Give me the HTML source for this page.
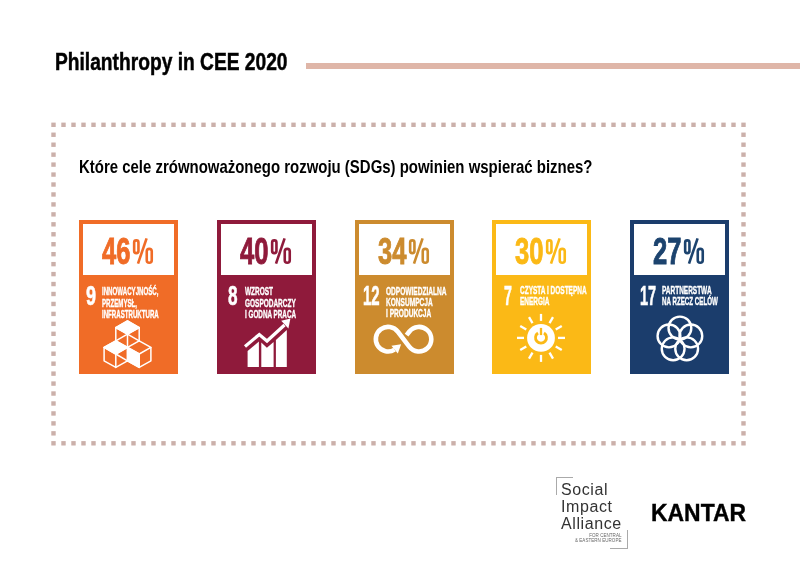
<!DOCTYPE html>
<html>
<head>
<meta charset="utf-8">
<style>
html,body{margin:0;padding:0;background:#fff;}
body{-webkit-font-smoothing:antialiased;width:800px;height:582px;position:relative;overflow:hidden;font-family:"Liberation Sans",sans-serif;}
.a{position:absolute;white-space:nowrap;line-height:1;}
.sx{transform-origin:0 0;}
#title{left:55px;top:50.2px;font-size:24.3px;font-weight:bold;color:#000;transform:scaleX(0.79);-webkit-text-stroke:0.5px #000;}
#rule{position:absolute;left:306px;top:63.2px;width:494px;height:5.6px;background:#dfb6a8;}
#q{left:79px;top:158.6px;font-size:17.8px;font-weight:bold;color:#000;transform:scaleX(0.841);}
.card{position:absolute;top:220.3px;width:98.6px;height:154.1px;}
.box{position:absolute;left:4px;top:3.9px;width:90.6px;height:51.3px;background:#fff;}
.pct{position:absolute;font-weight:bold;font-size:36px;-webkit-text-stroke-width:0.9px;line-height:1;transform-origin:0 0;white-space:nowrap;}
.num{position:absolute;font-weight:bold;color:#fff;line-height:1;transform-origin:0 0;white-space:nowrap;font-size:27.4px;-webkit-text-stroke:0.6px #fff;}
.lbl{position:absolute;font-weight:bold;color:#fff;font-size:10px;line-height:11.3px;-webkit-text-stroke:0.35px #fff;transform-origin:0 0;white-space:nowrap;}
.ic{position:absolute;left:0;top:0;}
</style>
</head>
<body>
<div id="wrap" style="position:absolute;left:0;top:0;width:800px;height:582px;will-change:transform">
<div id="title" class="a sx">Philanthropy in CEE 2020</div>
<div id="rule"></div>

<svg class="a" style="left:0;top:0" width="800" height="582" id="dots"><g fill="#cbb0aa"><rect x="51.30" y="122.60" width="4.4" height="4.4"/><rect x="51.30" y="441.10" width="4.4" height="4.4"/><rect x="61.30" y="122.60" width="4.4" height="4.4"/><rect x="61.30" y="441.10" width="4.4" height="4.4"/><rect x="71.30" y="122.60" width="4.4" height="4.4"/><rect x="71.30" y="441.10" width="4.4" height="4.4"/><rect x="81.30" y="122.60" width="4.4" height="4.4"/><rect x="81.30" y="441.10" width="4.4" height="4.4"/><rect x="91.30" y="122.60" width="4.4" height="4.4"/><rect x="91.30" y="441.10" width="4.4" height="4.4"/><rect x="101.30" y="122.60" width="4.4" height="4.4"/><rect x="101.30" y="441.10" width="4.4" height="4.4"/><rect x="111.30" y="122.60" width="4.4" height="4.4"/><rect x="111.30" y="441.10" width="4.4" height="4.4"/><rect x="121.30" y="122.60" width="4.4" height="4.4"/><rect x="121.30" y="441.10" width="4.4" height="4.4"/><rect x="131.30" y="122.60" width="4.4" height="4.4"/><rect x="131.30" y="441.10" width="4.4" height="4.4"/><rect x="141.30" y="122.60" width="4.4" height="4.4"/><rect x="141.30" y="441.10" width="4.4" height="4.4"/><rect x="151.30" y="122.60" width="4.4" height="4.4"/><rect x="151.30" y="441.10" width="4.4" height="4.4"/><rect x="161.30" y="122.60" width="4.4" height="4.4"/><rect x="161.30" y="441.10" width="4.4" height="4.4"/><rect x="171.30" y="122.60" width="4.4" height="4.4"/><rect x="171.30" y="441.10" width="4.4" height="4.4"/><rect x="181.30" y="122.60" width="4.4" height="4.4"/><rect x="181.30" y="441.10" width="4.4" height="4.4"/><rect x="191.30" y="122.60" width="4.4" height="4.4"/><rect x="191.30" y="441.10" width="4.4" height="4.4"/><rect x="201.30" y="122.60" width="4.4" height="4.4"/><rect x="201.30" y="441.10" width="4.4" height="4.4"/><rect x="211.30" y="122.60" width="4.4" height="4.4"/><rect x="211.30" y="441.10" width="4.4" height="4.4"/><rect x="221.30" y="122.60" width="4.4" height="4.4"/><rect x="221.30" y="441.10" width="4.4" height="4.4"/><rect x="231.30" y="122.60" width="4.4" height="4.4"/><rect x="231.30" y="441.10" width="4.4" height="4.4"/><rect x="241.30" y="122.60" width="4.4" height="4.4"/><rect x="241.30" y="441.10" width="4.4" height="4.4"/><rect x="251.30" y="122.60" width="4.4" height="4.4"/><rect x="251.30" y="441.10" width="4.4" height="4.4"/><rect x="261.30" y="122.60" width="4.4" height="4.4"/><rect x="261.30" y="441.10" width="4.4" height="4.4"/><rect x="271.30" y="122.60" width="4.4" height="4.4"/><rect x="271.30" y="441.10" width="4.4" height="4.4"/><rect x="281.30" y="122.60" width="4.4" height="4.4"/><rect x="281.30" y="441.10" width="4.4" height="4.4"/><rect x="291.30" y="122.60" width="4.4" height="4.4"/><rect x="291.30" y="441.10" width="4.4" height="4.4"/><rect x="301.30" y="122.60" width="4.4" height="4.4"/><rect x="301.30" y="441.10" width="4.4" height="4.4"/><rect x="311.30" y="122.60" width="4.4" height="4.4"/><rect x="311.30" y="441.10" width="4.4" height="4.4"/><rect x="321.30" y="122.60" width="4.4" height="4.4"/><rect x="321.30" y="441.10" width="4.4" height="4.4"/><rect x="331.30" y="122.60" width="4.4" height="4.4"/><rect x="331.30" y="441.10" width="4.4" height="4.4"/><rect x="341.30" y="122.60" width="4.4" height="4.4"/><rect x="341.30" y="441.10" width="4.4" height="4.4"/><rect x="351.30" y="122.60" width="4.4" height="4.4"/><rect x="351.30" y="441.10" width="4.4" height="4.4"/><rect x="361.30" y="122.60" width="4.4" height="4.4"/><rect x="361.30" y="441.10" width="4.4" height="4.4"/><rect x="371.30" y="122.60" width="4.4" height="4.4"/><rect x="371.30" y="441.10" width="4.4" height="4.4"/><rect x="381.30" y="122.60" width="4.4" height="4.4"/><rect x="381.30" y="441.10" width="4.4" height="4.4"/><rect x="391.30" y="122.60" width="4.4" height="4.4"/><rect x="391.30" y="441.10" width="4.4" height="4.4"/><rect x="401.30" y="122.60" width="4.4" height="4.4"/><rect x="401.30" y="441.10" width="4.4" height="4.4"/><rect x="411.30" y="122.60" width="4.4" height="4.4"/><rect x="411.30" y="441.10" width="4.4" height="4.4"/><rect x="421.30" y="122.60" width="4.4" height="4.4"/><rect x="421.30" y="441.10" width="4.4" height="4.4"/><rect x="431.30" y="122.60" width="4.4" height="4.4"/><rect x="431.30" y="441.10" width="4.4" height="4.4"/><rect x="441.30" y="122.60" width="4.4" height="4.4"/><rect x="441.30" y="441.10" width="4.4" height="4.4"/><rect x="451.30" y="122.60" width="4.4" height="4.4"/><rect x="451.30" y="441.10" width="4.4" height="4.4"/><rect x="461.30" y="122.60" width="4.4" height="4.4"/><rect x="461.30" y="441.10" width="4.4" height="4.4"/><rect x="471.30" y="122.60" width="4.4" height="4.4"/><rect x="471.30" y="441.10" width="4.4" height="4.4"/><rect x="481.30" y="122.60" width="4.4" height="4.4"/><rect x="481.30" y="441.10" width="4.4" height="4.4"/><rect x="491.30" y="122.60" width="4.4" height="4.4"/><rect x="491.30" y="441.10" width="4.4" height="4.4"/><rect x="501.30" y="122.60" width="4.4" height="4.4"/><rect x="501.30" y="441.10" width="4.4" height="4.4"/><rect x="511.30" y="122.60" width="4.4" height="4.4"/><rect x="511.30" y="441.10" width="4.4" height="4.4"/><rect x="521.30" y="122.60" width="4.4" height="4.4"/><rect x="521.30" y="441.10" width="4.4" height="4.4"/><rect x="531.30" y="122.60" width="4.4" height="4.4"/><rect x="531.30" y="441.10" width="4.4" height="4.4"/><rect x="541.30" y="122.60" width="4.4" height="4.4"/><rect x="541.30" y="441.10" width="4.4" height="4.4"/><rect x="551.30" y="122.60" width="4.4" height="4.4"/><rect x="551.30" y="441.10" width="4.4" height="4.4"/><rect x="561.30" y="122.60" width="4.4" height="4.4"/><rect x="561.30" y="441.10" width="4.4" height="4.4"/><rect x="571.30" y="122.60" width="4.4" height="4.4"/><rect x="571.30" y="441.10" width="4.4" height="4.4"/><rect x="581.30" y="122.60" width="4.4" height="4.4"/><rect x="581.30" y="441.10" width="4.4" height="4.4"/><rect x="591.30" y="122.60" width="4.4" height="4.4"/><rect x="591.30" y="441.10" width="4.4" height="4.4"/><rect x="601.30" y="122.60" width="4.4" height="4.4"/><rect x="601.30" y="441.10" width="4.4" height="4.4"/><rect x="611.30" y="122.60" width="4.4" height="4.4"/><rect x="611.30" y="441.10" width="4.4" height="4.4"/><rect x="621.30" y="122.60" width="4.4" height="4.4"/><rect x="621.30" y="441.10" width="4.4" height="4.4"/><rect x="631.30" y="122.60" width="4.4" height="4.4"/><rect x="631.30" y="441.10" width="4.4" height="4.4"/><rect x="641.30" y="122.60" width="4.4" height="4.4"/><rect x="641.30" y="441.10" width="4.4" height="4.4"/><rect x="651.30" y="122.60" width="4.4" height="4.4"/><rect x="651.30" y="441.10" width="4.4" height="4.4"/><rect x="661.30" y="122.60" width="4.4" height="4.4"/><rect x="661.30" y="441.10" width="4.4" height="4.4"/><rect x="671.30" y="122.60" width="4.4" height="4.4"/><rect x="671.30" y="441.10" width="4.4" height="4.4"/><rect x="681.30" y="122.60" width="4.4" height="4.4"/><rect x="681.30" y="441.10" width="4.4" height="4.4"/><rect x="691.30" y="122.60" width="4.4" height="4.4"/><rect x="691.30" y="441.10" width="4.4" height="4.4"/><rect x="701.30" y="122.60" width="4.4" height="4.4"/><rect x="701.30" y="441.10" width="4.4" height="4.4"/><rect x="711.30" y="122.60" width="4.4" height="4.4"/><rect x="711.30" y="441.10" width="4.4" height="4.4"/><rect x="721.30" y="122.60" width="4.4" height="4.4"/><rect x="721.30" y="441.10" width="4.4" height="4.4"/><rect x="731.30" y="122.60" width="4.4" height="4.4"/><rect x="731.30" y="441.10" width="4.4" height="4.4"/><rect x="741.30" y="122.60" width="4.4" height="4.4"/><rect x="741.30" y="441.10" width="4.4" height="4.4"/><rect x="51.30" y="132.55" width="4.4" height="4.4"/><rect x="741.30" y="132.55" width="4.4" height="4.4"/><rect x="51.30" y="142.51" width="4.4" height="4.4"/><rect x="741.30" y="142.51" width="4.4" height="4.4"/><rect x="51.30" y="152.46" width="4.4" height="4.4"/><rect x="741.30" y="152.46" width="4.4" height="4.4"/><rect x="51.30" y="162.41" width="4.4" height="4.4"/><rect x="741.30" y="162.41" width="4.4" height="4.4"/><rect x="51.30" y="172.37" width="4.4" height="4.4"/><rect x="741.30" y="172.37" width="4.4" height="4.4"/><rect x="51.30" y="182.32" width="4.4" height="4.4"/><rect x="741.30" y="182.32" width="4.4" height="4.4"/><rect x="51.30" y="192.27" width="4.4" height="4.4"/><rect x="741.30" y="192.27" width="4.4" height="4.4"/><rect x="51.30" y="202.23" width="4.4" height="4.4"/><rect x="741.30" y="202.23" width="4.4" height="4.4"/><rect x="51.30" y="212.18" width="4.4" height="4.4"/><rect x="741.30" y="212.18" width="4.4" height="4.4"/><rect x="51.30" y="222.13" width="4.4" height="4.4"/><rect x="741.30" y="222.13" width="4.4" height="4.4"/><rect x="51.30" y="232.08" width="4.4" height="4.4"/><rect x="741.30" y="232.08" width="4.4" height="4.4"/><rect x="51.30" y="242.04" width="4.4" height="4.4"/><rect x="741.30" y="242.04" width="4.4" height="4.4"/><rect x="51.30" y="251.99" width="4.4" height="4.4"/><rect x="741.30" y="251.99" width="4.4" height="4.4"/><rect x="51.30" y="261.94" width="4.4" height="4.4"/><rect x="741.30" y="261.94" width="4.4" height="4.4"/><rect x="51.30" y="271.90" width="4.4" height="4.4"/><rect x="741.30" y="271.90" width="4.4" height="4.4"/><rect x="51.30" y="281.85" width="4.4" height="4.4"/><rect x="741.30" y="281.85" width="4.4" height="4.4"/><rect x="51.30" y="291.80" width="4.4" height="4.4"/><rect x="741.30" y="291.80" width="4.4" height="4.4"/><rect x="51.30" y="301.76" width="4.4" height="4.4"/><rect x="741.30" y="301.76" width="4.4" height="4.4"/><rect x="51.30" y="311.71" width="4.4" height="4.4"/><rect x="741.30" y="311.71" width="4.4" height="4.4"/><rect x="51.30" y="321.66" width="4.4" height="4.4"/><rect x="741.30" y="321.66" width="4.4" height="4.4"/><rect x="51.30" y="331.62" width="4.4" height="4.4"/><rect x="741.30" y="331.62" width="4.4" height="4.4"/><rect x="51.30" y="341.57" width="4.4" height="4.4"/><rect x="741.30" y="341.57" width="4.4" height="4.4"/><rect x="51.30" y="351.52" width="4.4" height="4.4"/><rect x="741.30" y="351.52" width="4.4" height="4.4"/><rect x="51.30" y="361.48" width="4.4" height="4.4"/><rect x="741.30" y="361.48" width="4.4" height="4.4"/><rect x="51.30" y="371.43" width="4.4" height="4.4"/><rect x="741.30" y="371.43" width="4.4" height="4.4"/><rect x="51.30" y="381.38" width="4.4" height="4.4"/><rect x="741.30" y="381.38" width="4.4" height="4.4"/><rect x="51.30" y="391.33" width="4.4" height="4.4"/><rect x="741.30" y="391.33" width="4.4" height="4.4"/><rect x="51.30" y="401.29" width="4.4" height="4.4"/><rect x="741.30" y="401.29" width="4.4" height="4.4"/><rect x="51.30" y="411.24" width="4.4" height="4.4"/><rect x="741.30" y="411.24" width="4.4" height="4.4"/><rect x="51.30" y="421.19" width="4.4" height="4.4"/><rect x="741.30" y="421.19" width="4.4" height="4.4"/><rect x="51.30" y="431.15" width="4.4" height="4.4"/><rect x="741.30" y="431.15" width="4.4" height="4.4"/></g></svg>

<div id="q" class="a sx">Które cele zrównoważonego rozwoju (SDGs) powinien wspierać biznes?</div>

<!-- Card 1 -->
<div class="card" style="left:79.3px;background:#f06c27;">
  <div class="box"></div>
  <div class="pct" style="left:23px;top:13.5px;color:#f06c27;transform:scaleX(0.71)">46</div>
  <svg style="position:absolute;left:53.8px;top:18px;overflow:visible" width="20" height="26"><g fill="none" stroke="#f06c27" stroke-width="2.6"><rect x="1.15" y="2.4" width="4.3" height="12.7" rx="2.1"/><rect x="13.75" y="10.85" width="5.0" height="13.9" rx="2.5"/><line x1="13.6" y1="0.3" x2="5.0" y2="25.6"/></g></svg>
  <div class="num" style="left:7px;top:62px;transform:scaleX(0.66)">9</div>
  <div class="lbl" style="left:23px;top:66px;transform:scaleX(0.612)">INNOWACYJNOŚĆ,<br>PRZEMYSŁ,<br>INFRASTRUKTURA</div>
</div>

<!-- Card 2 -->
<div class="card" style="left:217.4px;background:#8f1a3b;">
  <div class="box"></div>
  <div class="pct" style="left:23px;top:13.5px;color:#8f1a3b;transform:scaleX(0.71)">40</div>
  <svg style="position:absolute;left:53.8px;top:18px;overflow:visible" width="20" height="26"><g fill="none" stroke="#8f1a3b" stroke-width="2.6"><rect x="1.15" y="2.4" width="4.3" height="12.7" rx="2.1"/><rect x="13.75" y="10.85" width="5.0" height="13.9" rx="2.5"/><line x1="13.6" y1="0.3" x2="5.0" y2="25.6"/></g></svg>
  <div class="num" style="left:11px;top:62px;transform:scaleX(0.627)">8</div>
  <div class="lbl" style="left:27.5px;top:66px;transform:scaleX(0.648)">WZROST<br>GOSPODARCZY</div>
  <div class="lbl" style="left:27.5px;top:88.6px;transform:scaleX(0.632)">I GODNA PRACA</div>
</div>

<!-- Card 3 -->
<div class="card" style="left:355.1px;background:#cc8b2e;">
  <div class="box"></div>
  <div class="pct" style="left:23px;top:13.5px;color:#cc8b2e;transform:scaleX(0.71)">34</div>
  <svg style="position:absolute;left:53.8px;top:18px;overflow:visible" width="20" height="26"><g fill="none" stroke="#cc8b2e" stroke-width="2.6"><rect x="1.15" y="2.4" width="4.3" height="12.7" rx="2.1"/><rect x="13.75" y="10.85" width="5.0" height="13.9" rx="2.5"/><line x1="13.6" y1="0.3" x2="5.0" y2="25.6"/></g></svg>
  <div class="num" style="left:7.5px;top:62px;transform:scaleX(0.547)">12</div>
  <div class="lbl" style="left:31px;top:65.4px;line-height:11px;transform:scaleX(0.657)">ODPOWIEDZIALNA<br>KONSUMPCJA<br>I PRODUKCJA</div>
</div>

<!-- Card 4 -->
<div class="card" style="left:492.1px;background:#fbb916;">
  <div class="box"></div>
  <div class="pct" style="left:23px;top:13.5px;color:#fbb916;transform:scaleX(0.71)">30</div>
  <svg style="position:absolute;left:53.8px;top:18px;overflow:visible" width="20" height="26"><g fill="none" stroke="#fbb916" stroke-width="2.6"><rect x="1.15" y="2.4" width="4.3" height="12.7" rx="2.1"/><rect x="13.75" y="10.85" width="5.0" height="13.9" rx="2.5"/><line x1="13.6" y1="0.3" x2="5.0" y2="25.6"/></g></svg>
  <div class="num" style="left:11.5px;top:62px;transform:scaleX(0.52)">7</div>
  <div class="lbl" style="left:28px;top:65px;transform:scaleX(0.648)">CZYSTA I DOSTĘPNA</div>
  <div class="lbl" style="left:28px;top:75.8px;transform:scaleX(0.648)">ENERGIA</div>
</div>

<!-- Card 5 -->
<div class="card" style="left:630.1px;background:#1b3d6c;">
  <div class="box"></div>
  <div class="pct" style="left:23px;top:13.5px;color:#1c436e;transform:scaleX(0.71)">27</div>
  <svg style="position:absolute;left:53.8px;top:18px;overflow:visible" width="20" height="26"><g fill="none" stroke="#1c436e" stroke-width="2.6"><rect x="1.15" y="2.4" width="4.3" height="12.7" rx="2.1"/><rect x="13.75" y="10.85" width="5.0" height="13.9" rx="2.5"/><line x1="13.6" y1="0.3" x2="5.0" y2="25.6"/></g></svg>
  <div class="num" style="left:9.5px;top:62px;transform:scaleX(0.53)">17</div>
  <div class="lbl" style="left:31.5px;top:65px;transform:scaleX(0.648)">PARTNERSTWA</div>
  <div class="lbl" style="left:31.5px;top:75.8px;transform:scaleX(0.62)">NA RZECZ CELÓW</div>
</div>

<svg class="a" style="left:0;top:0" width="800" height="582"><g fill="#fff" stroke="#fff" stroke-width="1.5" stroke-linejoin="round"><polygon points="127.50,321.00 115.80,327.55 127.50,334.10 139.20,327.55"/><polygon points="115.80,340.90 104.10,347.45 115.80,354.00 127.50,347.45"/><polygon points="127.50,347.45 139.20,354.00 139.20,367.35 127.50,360.80"/></g><g fill="none" stroke="#fff" stroke-width="1.5" stroke-linejoin="round" stroke-linecap="round"><polyline points="127.50,321.00 115.80,327.55 127.50,334.10 139.20,327.55 127.50,321.00"/><polyline points="115.80,327.55 115.80,340.90"/><polyline points="127.50,334.10 127.50,347.45"/><polyline points="139.20,327.55 139.20,340.90"/><polyline points="127.50,334.10 115.80,340.90"/><polyline points="127.50,334.10 139.20,340.90"/><polyline points="115.80,340.90 104.10,347.45 115.80,354.00 127.50,347.45 115.80,340.90"/><polyline points="104.10,347.45 104.10,360.80 115.80,367.35 115.80,354.00"/><polyline points="127.50,347.45 127.50,360.80 115.80,367.35"/><polyline points="115.80,354.00 127.50,360.80"/><polyline points="139.20,340.90 127.50,347.45 139.20,354.00 150.90,347.45 139.20,340.90"/><polyline points="150.90,347.45 150.90,360.80 139.20,367.35 139.20,354.00"/><polyline points="127.50,360.80 139.20,367.35"/></g><g fill="#fff"><polyline points="245,346.5 259.3,334.5 267,341 284.5,325" fill="none" stroke="#fff" stroke-width="3.2" stroke-linejoin="miter" stroke-linecap="butt"/><polygon points="281.2,320.8 290.4,318.6 288.4,328.6"/><polygon points="247.6,367 247.6,350.9 258.9,341.6 258.9,367"/><polygon points="261.3,367 261.3,342.4 266.9,347.8 273.6,342 273.6,367"/><polygon points="275.9,367 275.9,340 286.8,330.1 286.8,367"/></g><g><path d="M406.58,335.22 L409.21,331.76 A12.3,12.3 0 1 1 409.21,346.64 L397.89,331.76 A12.3,12.3 0 1 0 394.62,349.63" fill="none" stroke="#fff" stroke-width="4.6"/><polygon fill="#fff" points="397.83,353.46 401.13,344.17 391.40,345.80"/></g><g><circle cx="541.0" cy="337.9" r="13.9" fill="#fff"/><g stroke="#fff" stroke-width="2.3" stroke-linecap="butt"><line x1="558.00" y1="337.90" x2="565.00" y2="337.90"/><line x1="555.72" y1="346.40" x2="561.78" y2="349.90"/><line x1="549.50" y1="352.62" x2="553.00" y2="358.68"/><line x1="541.00" y1="354.90" x2="541.00" y2="361.90"/><line x1="532.50" y1="352.62" x2="529.00" y2="358.68"/><line x1="526.28" y1="346.40" x2="520.22" y2="349.90"/><line x1="524.00" y1="337.90" x2="517.00" y2="337.90"/><line x1="526.28" y1="329.40" x2="520.22" y2="325.90"/><line x1="532.50" y1="323.18" x2="529.00" y2="317.12"/><line x1="541.00" y1="320.90" x2="541.00" y2="313.90"/><line x1="549.50" y1="323.18" x2="553.00" y2="317.12"/><line x1="555.72" y1="329.40" x2="561.78" y2="325.90"/></g><path d="M544.00,332.99 A5.5,5.5 0 1 1 538.00,332.99" fill="none" stroke="#fbb916" stroke-width="2.8"/><line x1="541.0" y1="327.9" x2="541.0" y2="335.09999999999997" stroke="#fbb916" stroke-width="2.3"/></g><g fill="none" stroke="#fff" stroke-width="2.4"><circle cx="679.90" cy="328.00" r="11.4"/><circle cx="690.84" cy="335.95" r="11.4"/><circle cx="686.66" cy="348.80" r="11.4"/><circle cx="673.14" cy="348.80" r="11.4"/><circle cx="668.96" cy="335.95" r="11.4"/></g></svg>
<!-- Social Impact Alliance logo -->
<div style="position:absolute;left:556px;top:477px;width:17px;height:1px;background:#aaa"></div>
<div style="position:absolute;left:556px;top:477px;width:1px;height:18px;background:#aaa"></div>
<div style="position:absolute;left:610px;top:548px;width:18px;height:1px;background:#aaa"></div>
<div style="position:absolute;left:627px;top:530px;width:1px;height:19px;background:#aaa"></div>
<div class="a" style="left:561px;top:482px;font-size:16px;line-height:16.8px;color:#333;letter-spacing:0.6px">Social<br>Impact<br>Alliance</div>
<div class="a" style="left:571.5px;top:533.8px;width:50px;font-size:4.5px;line-height:4.9px;color:#666;text-align:right;letter-spacing:0.05px">FOR CENTRAL<br>&amp; EASTERN EUROPE</div>

<div class="a" id="kantar" style="left:651px;top:500.8px;font-size:24.5px;font-weight:bold;color:#000;-webkit-text-stroke:0.4px #000;transform:scaleX(0.935);transform-origin:0 0">KANTAR</div>

</div>
</body>
</html>
